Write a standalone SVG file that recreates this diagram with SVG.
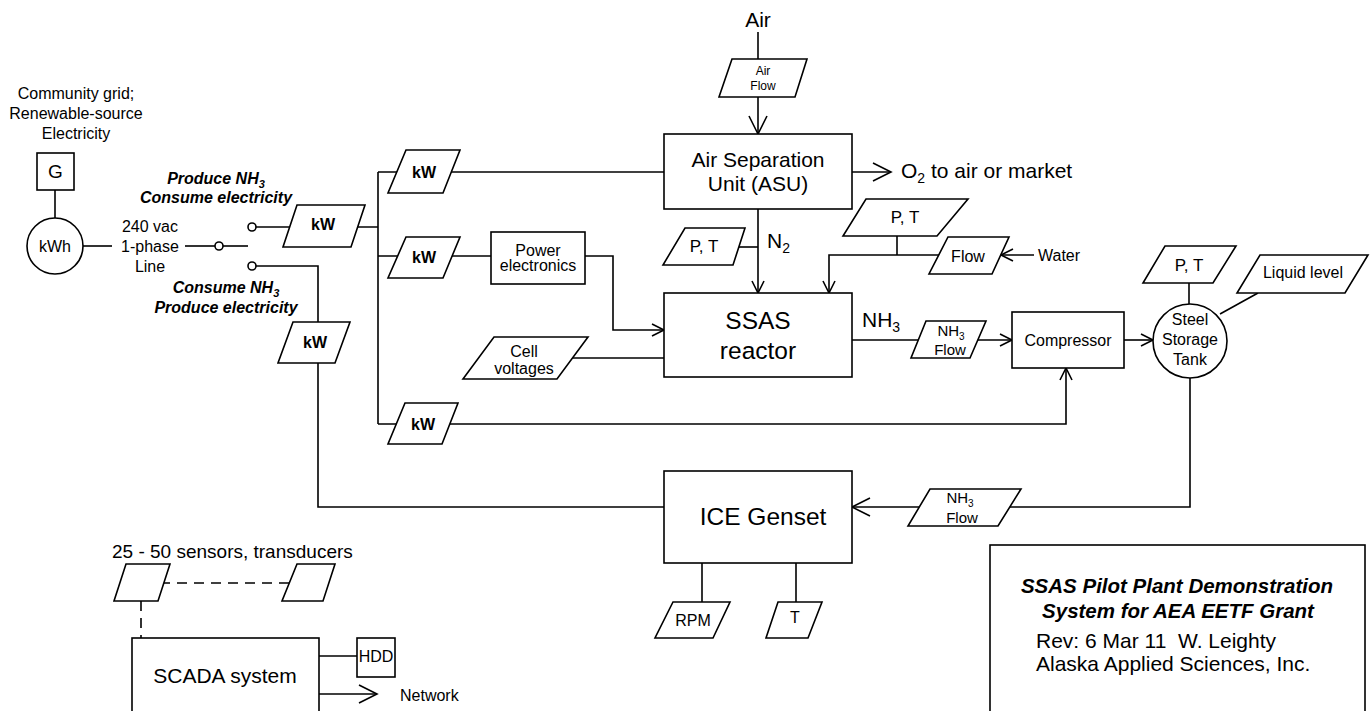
<svg xmlns="http://www.w3.org/2000/svg" width="1371" height="711" viewBox="0 0 1371 711">
<style>
.ln{fill:none;stroke:#000;stroke-width:1.6}
.dash{fill:none;stroke:#000;stroke-width:1.6;stroke-dasharray:10,7}
.nd{fill:#fff;stroke:#000;stroke-width:1.6}
text{font-family:"Liberation Sans",Arial,Helvetica,sans-serif;fill:#000}
.c{text-anchor:middle}
.b{font-weight:bold}
.bi{font-weight:bold;font-style:italic}
</style>
<defs>
<marker id="aL" markerUnits="userSpaceOnUse" markerWidth="22" markerHeight="22" refX="18" refY="9" orient="auto" overflow="visible"><path d="M0,0 L18,9 L0,18" fill="none" stroke="#000" stroke-width="1.6"/></marker>
<marker id="aS" markerUnits="userSpaceOnUse" markerWidth="16" markerHeight="16" refX="12" refY="6" orient="auto" overflow="visible"><path d="M0,0 L12,6 L0,12" fill="none" stroke="#000" stroke-width="1.6"/></marker>
</defs>
<rect x="0" y="0" width="1371" height="711" fill="#fff"/>

<g id="connectors">
<path class="ln" d="M55,190 V218"/>
<path class="ln" d="M83,246 H112"/>
<path class="ln" d="M185,246 H215"/>
<path class="ln" d="M223,246 H248"/>
<path class="ln" d="M256,227 H378"/>
<path class="ln" d="M256,266 H318 V507 H664"/>
<path class="ln" d="M378,172 V424"/>
<path class="ln" d="M378,172 H664"/>
<path class="ln" d="M378,256 H491"/>
<path class="ln" d="M585,256 H613 V330 H664" marker-end="url(#aS)"/>
<path class="ln" d="M570,358 H664"/>
<path class="ln" d="M378,424 H1066 V368" marker-end="url(#aS)"/>
<path class="ln" d="M758,32 V134" marker-end="url(#aL)"/>
<path class="ln" d="M852,172 H891" marker-end="url(#aL)"/>
<path class="ln" d="M758,209 V293" marker-end="url(#aS)"/>
<path class="ln" d="M735,247 H758"/>
<path class="ln" d="M1000,255 H829 V293" marker-end="url(#aS)"/>
<path class="ln" d="M1034,255 H1001" marker-end="url(#aS)"/>
<path class="ln" d="M897,236 V255"/>
<path class="ln" d="M852,340 H1012" marker-end="url(#aS)"/>
<path class="ln" d="M1124,340 H1153" marker-end="url(#aS)"/>
<path class="ln" d="M1189,283 V304"/>
<path class="ln" d="M1220,314 L1258,293"/>
<path class="ln" d="M1190,378 V507 H852" marker-end="url(#aL)"/>
<path class="ln" d="M702,563 V602"/>
<path class="ln" d="M796,563 V602"/>
<path class="dash" d="M160,583 H292"/>
<path class="dash" d="M141,601 V638"/>
<path class="ln" d="M319,656 H357"/>
<path class="ln" d="M319,694 H377" marker-end="url(#aL)"/>
</g>

<g id="grid-label">
<text class="c" x="76" y="99" font-size="16">Community grid;</text>
<text class="c" x="76" y="119" font-size="16">Renewable-source</text>
<text class="c" x="76" y="139" font-size="16">Electricity</text>
</g>
<g id="generator"><rect class="nd" x="37" y="153" width="37" height="37"/><text class="c" x="55.5" y="178" font-size="19">G</text></g>
<g id="kwh-meter"><circle class="nd" cx="55" cy="246" r="28"/><text class="c" x="55" y="252" font-size="16">kWh</text></g>
<g id="line-label">
<text class="c" x="150" y="232" font-size="16">240 vac</text>
<text class="c" x="150" y="252" font-size="16">1-phase</text>
<text class="c" x="150" y="272" font-size="16">Line</text>
</g>
<g id="switch">
<circle class="nd" cx="219" cy="246" r="4"/>
<circle class="nd" cx="252" cy="227" r="4"/>
<circle class="nd" cx="252" cy="266" r="4"/>
</g>
<g id="mode-produce">
<text class="c bi" x="216" y="183.5" font-size="16">Produce NH<tspan font-size="11" dy="4">3</tspan></text>
<text class="c bi" x="216" y="203" font-size="16">Consume electricity</text>
</g>
<g id="mode-consume">
<text class="c bi" x="226" y="292.5" font-size="16">Consume NH<tspan font-size="11" dy="4">3</tspan></text>
<text class="c bi" x="226" y="312.5" font-size="16">Produce electricity</text>
</g>
<g id="kw-main"><polygon class="nd" points="297,205 365,205 351,247 283,247"/><text class="c b" x="323" y="230" font-size="16">kW</text></g>
<g id="kw-gen"><polygon class="nd" points="293,322 350,322 335,363 278,363"/><text class="c b" x="315" y="348" font-size="16">kW</text></g>
<g id="kw-asu"><polygon class="nd" points="406,150 460,150 443,193 388,193"/><text class="c b" x="424" y="177.5" font-size="16">kW</text></g>
<g id="kw-pe"><polygon class="nd" points="406,237 460,237 443,278 388,278"/><text class="c b" x="424" y="262.5" font-size="16">kW</text></g>
<g id="kw-comp"><polygon class="nd" points="405,403 458,403 442,444 388,444"/><text class="c b" x="423" y="430" font-size="16">kW</text></g>
<g id="power-electronics"><rect class="nd" x="491" y="232" width="94" height="52"/><text class="c" x="538" y="256" font-size="16">Power</text><text class="c" x="538" y="270.5" font-size="16">electronics</text></g>
<g id="cell-voltages"><polygon class="nd" points="494,337 588,337 557,379 463,379"/><text class="c" x="524" y="357" font-size="16">Cell</text><text class="c" x="524" y="374" font-size="16">voltages</text></g>
<g id="air-label"><text class="c" x="758" y="26.5" font-size="21">Air</text></g>
<g id="air-flow"><polygon class="nd" points="732,59 807,59 795,97 719,97"/><text class="c" x="763" y="75" font-size="12">Air</text><text class="c" x="763" y="90" font-size="12">Flow</text></g>
<g id="asu"><rect class="nd" x="664" y="134" width="188" height="75"/><text class="c" x="758" y="166.5" font-size="21">Air Separation</text><text class="c" x="758" y="190.5" font-size="21">Unit (ASU)</text></g>
<g id="o2-label"><text x="901" y="178" font-size="21">O<tspan font-size="14" dy="5">2</tspan><tspan dy="-5"> to air or market</tspan></text></g>
<g id="pt-n2"><polygon class="nd" points="685,228 745,228 733,265 663,265"/><text class="c" x="704" y="252" font-size="17">P, T</text></g>
<g id="n2-label"><text x="767" y="248" font-size="21">N<tspan font-size="14" dy="5">2</tspan></text></g>
<g id="pt-water"><polygon class="nd" points="866,199 968,199 937,236 843,236"/><text class="c" x="905" y="223" font-size="17">P, T</text></g>
<g id="water-flow"><polygon class="nd" points="948,237 1009,237 992,274 929,274"/><text class="c" x="968" y="262" font-size="16">Flow</text></g>
<g id="water-label"><text x="1038" y="261" font-size="16">Water</text></g>
<g id="ssas-reactor"><rect class="nd" x="664" y="293" width="188" height="84"/><text class="c" x="758" y="328.5" font-size="24.5">SSAS</text><text class="c" x="758" y="358.5" font-size="24.5">reactor</text></g>
<g id="nh3-label"><text x="862" y="327" font-size="21">NH<tspan font-size="14" dy="5">3</tspan></text></g>
<g id="nh3-flow"><polygon class="nd" points="926,321 986,321 970,358 911,358"/><text class="c" x="951" y="336" font-size="15">NH<tspan font-size="10" dy="4">3</tspan></text><text class="c" x="950" y="355" font-size="15">Flow</text></g>
<g id="compressor"><rect class="nd" x="1012" y="312" width="112" height="56"/><text class="c" x="1068" y="346" font-size="16">Compressor</text></g>
<g id="storage-tank"><circle class="nd" cx="1190" cy="341" r="37"/><text class="c" x="1190" y="325" font-size="16">Steel</text><text class="c" x="1190" y="345" font-size="16">Storage</text><text class="c" x="1190" y="365" font-size="16">Tank</text></g>
<g id="pt-tank"><polygon class="nd" points="1165,246 1236,246 1213,283 1143,283"/><text class="c" x="1189" y="271" font-size="17">P, T</text></g>
<g id="liquid-level"><polygon class="nd" points="1260,255 1368,255 1345,293 1237,293"/><text class="c" x="1303" y="278" font-size="16">Liquid level</text></g>
<g id="nh3-flow-ice"><polygon class="nd" points="930,489 1021,489 998,526 908,526"/><text class="c" x="960" y="503" font-size="15">NH<tspan font-size="10" dy="4">3</tspan></text><text class="c" x="962" y="523" font-size="15">Flow</text></g>
<g id="ice-genset"><rect class="nd" x="664" y="471" width="188" height="92"/><text class="c" x="763" y="525" font-size="24.5">ICE Genset</text></g>
<g id="rpm"><polygon class="nd" points="673,602 730,602 713,638 655,638"/><text class="c" x="693" y="626" font-size="16">RPM</text></g>
<g id="temp"><polygon class="nd" points="778,602 822,602 808,638 766,638"/><text class="c" x="795" y="623" font-size="16">T</text></g>
<g id="sensors-label"><text x="112" y="558" font-size="19">25 - 50 sensors, transducers</text></g>
<g id="sensor-1"><polygon class="nd" points="126,564 170,564 158,601 114,601"/></g>
<g id="sensor-n"><polygon class="nd" points="297,564 335,564 323,601 282,601"/></g>
<g id="scada"><rect class="nd" x="132" y="638" width="187" height="100"/><text class="c" x="225" y="683" font-size="21">SCADA system</text></g>
<g id="hdd"><rect class="nd" x="357" y="638" width="38" height="39"/><text class="c" x="376" y="662" font-size="16">HDD</text></g>
<g id="network-label"><text x="400" y="701" font-size="16">Network</text></g>
<g id="title-block">
<rect class="nd" x="990" y="545" width="375" height="200"/>
<text class="c bi" x="1177" y="593" font-size="20.5">SSAS Pilot Plant Demonstration</text>
<text class="c bi" x="1178" y="618" font-size="20.5">System for AEA EETF Grant</text>
<text x="1036" y="648" font-size="21" xml:space="preserve">Rev: 6 Mar 11  W. Leighty</text>
<text x="1036" y="671" font-size="21">Alaska Applied Sciences, Inc.</text>
</g>
</svg>
